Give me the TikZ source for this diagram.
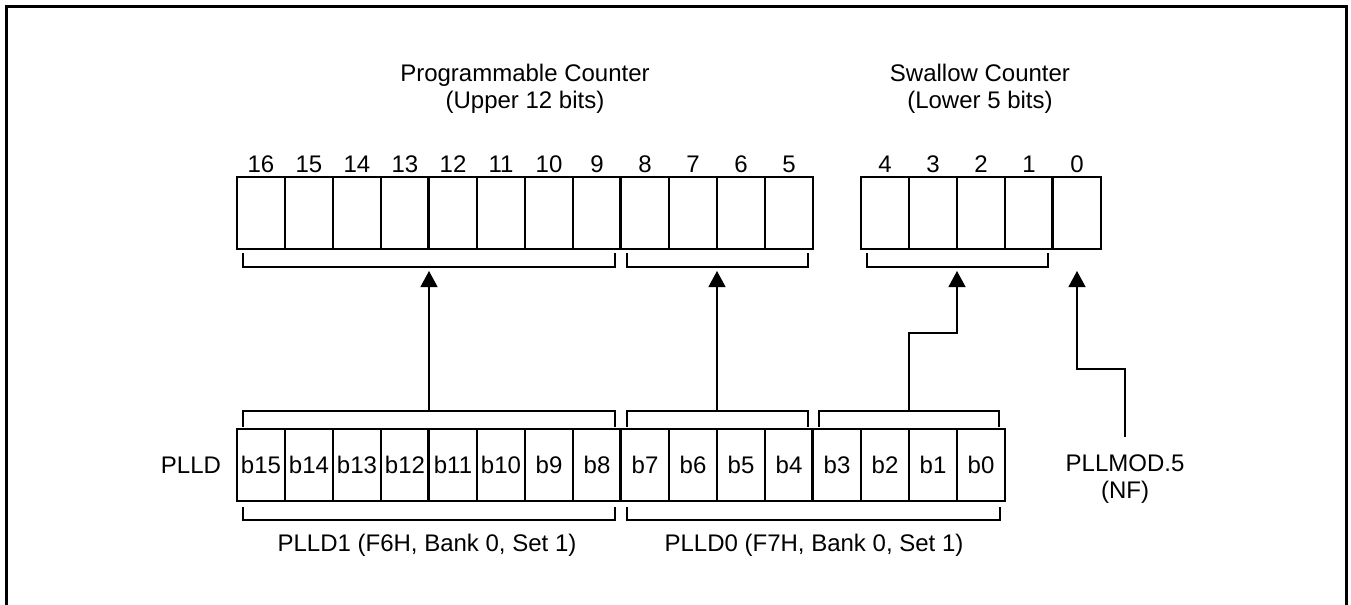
\documentclass[tikz,border=0pt]{standalone}
\usepackage{fontspec}
\setmainfont{Liberation Sans}
\usetikzlibrary{arrows.meta,positioning,calc}

\begin{document}
\begin{tikzpicture}[
        x=0.5pt, y=-0.5pt,
        cell/.style={rectangle, draw, line width=0.6pt, minimum width=24pt, minimum height=36pt, inner sep=0pt, font=\fontsize{12}{13.5}\selectfont},
        bitnum/.style={inner sep=0pt, font=\fontsize{12}{13.5}\selectfont},
        title/.style={inner sep=0pt, align=center, font=\fontsize{12}{13.5}\selectfont},
        bracket/.style={line width=0.6pt},
        divider/.style={line width=1.5pt},
        arrow/.style={-{Triangle[length=8pt,width=8.5pt]}, line width=0.6pt}
    ]

    \useasboundingbox (0,0) rectangle (1351,605);

    % Frame
    \draw[line width=1.5pt] (6,610) -- (6,6) -- (1346,6) -- (1346,610);

    % Titles
    \node[title] (prog) at (525,88.5) {Programmable Counter\\(Upper 12 bits)};
    \node[title] (swal) at (980,88.5) {Swallow Counter\\(Lower 5 bits)};

    % Counter bits
    \foreach \k [evaluate=\k as \xc using 261+(16-\k)*48] in {16,...,5} {
        \node[cell] (u\k) at (\xc,213) {};
        \node[bitnum] at ($(u\k.north)+(0,-12)$) {\k};
    }
    \foreach \k [evaluate=\k as \xc using 885+(4-\k)*48] in {4,...,0} {
        \node[cell] (u\k) at (\xc,213) {};
        \node[bitnum] at ($(u\k.north)+(0,-12)$) {\k};
    }
    \draw[divider] (u12.north west) -- (u12.south west);
    \draw[divider] (u8.north west) -- (u8.south west);
    \draw[divider] (u0.north west) -- (u0.south west);

    % PLLD register
    \node[title] (plld) at (191,465) {PLLD};
    \foreach \k [evaluate=\k as \xc using 261+(15-\k)*48] in {15,...,0} {
        \node[cell] (b\k) at (\xc,465) {b\k};
    }
    \draw[divider] (b11.north west) -- (b11.south west);
    \draw[divider] (b7.north west) -- (b7.south west);
    \draw[divider] (b3.north west) -- (b3.south west);

    % Brackets under counter
    \draw[bracket] (243,253) |- (615,267) -- (615,253);
    \draw[bracket] (627,253) |- (808,267) -- (808,253);
    \draw[bracket] (867,253) |- (1048,267) -- (1048,253);

    % Brackets above PLLD
    \draw[bracket] (243,427) |- (615,411) -- (615,427);
    \draw[bracket] (627,427) |- (808,411) -- (808,427);
    \draw[bracket] (819,427) |- (999,411) -- (999,427);

    % Brackets under PLLD
    \draw[bracket] (243,507) |- (615,520) -- (615,507);
    \draw[bracket] (627,507) |- (1000,520) -- (1000,507);
    \node[title] (plld1) at (427,545) {PLLD1 (F6H, Bank 0, Set 1)};
    \node[title] (plld0) at (814,545) {PLLD0 (F7H, Bank 0, Set 1)};

    % NF bit
    \node[title] (nf) at (1125,479) {PLLMOD.5\\(NF)};

    % Arrow ends
    \coordinate (s1) at (429,411);
    \coordinate (s2) at (717,411);
    \coordinate (s3) at (909,411);
    \coordinate (s4) at (1125,437);
    \coordinate (t1) at (429,271);
    \coordinate (t2) at (717,271);
    \coordinate (t3) at (957,271);
    \coordinate (t4) at (1077,271);

    \draw[arrow] (s1) -- (t1);
    \draw[arrow] (s2) -- (t2);
    \draw[arrow] (s3) |- ($(t3)+(0,62)$) -- (t3);
    \draw[arrow] (s4) |- ($(t4)+(0,98)$) -- (t4);

\end{tikzpicture}
\end{document}
